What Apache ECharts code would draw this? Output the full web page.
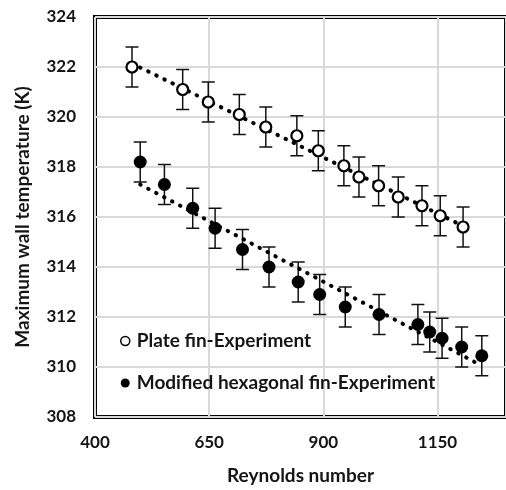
<!DOCTYPE html>
<html>
<head>
<meta charset="utf-8">
<script src="https://cdn.jsdelivr.net/npm/echarts@6/dist/echarts.min.js"></script>
<style>
html,body{margin:0;padding:0;background:#fff;}
#chart{width:506px;height:490px;}
</style>
</head>
<body>
<div id="chart"></div>
<script>
// ---- data ----
var xTicks = [400, 650, 900, 1150];
var yTicks = [308, 310, 312, 314, 316, 318, 320, 322, 324];

var plateName = 'Plate fin-Experiment';
var plateRe = [481, 592, 648, 716, 774, 842, 889, 945, 978, 1021, 1064, 1116, 1156, 1206];
var plateT  = [322.0, 321.1, 320.6, 320.1, 319.6, 319.25, 318.65, 318.05, 317.6, 317.25, 316.8, 316.45, 316.05, 315.6];
var plateErr = [0.8, 0.8, 0.8, 0.8, 0.8, 0.8, 0.8, 0.8, 0.8, 0.8, 0.8, 0.8, 0.8, 0.8];

var hexName = 'Modified hexagonal fin-Experiment';
var hexRe = [499, 552, 614, 663, 723, 781, 845, 892, 948, 1022, 1107, 1133, 1160, 1203, 1247];
var hexT  = [318.2, 317.3, 316.35, 315.55, 314.7, 314.0, 313.4, 312.9, 312.4, 312.1, 311.7, 311.4, 311.15, 310.8, 310.45];
var hexErr = [0.8, 0.8, 0.8, 0.8, 0.8, 0.8, 0.8, 0.8, 0.8, 0.8, 0.8, 0.8, 0.8, 0.8, 0.8];

// linear trend lines (end points)
var plateTrendRe = [481, 1206];
var plateTrendT  = [322.14, 315.64];
var hexTrendRe = [499, 1247];
var hexTrendT  = [317.3, 310.05];

// ---- build ----
function pairs(xs, ys) { return xs.map(function (x, i) { return [x, ys[i]]; }); }
function errData(xs, ys, es) { return xs.map(function (x, i) { return [x, ys[i] - es[i], ys[i] + es[i]]; }); }

var FONT = 'Lato';
var TXT = '#151515';

function errRender(params, api) {
  var x = api.value(0);
  var lo = api.coord([x, api.value(1)]);
  var hi = api.coord([x, api.value(2)]);
  var hw = 6.5;
  var st = { stroke: '#111', lineWidth: 1.5, fill: null };
  return {
    type: 'group',
    children: [
      { type: 'line', shape: { x1: lo[0], y1: lo[1], x2: hi[0], y2: hi[1] }, style: st },
      { type: 'line', shape: { x1: lo[0] - hw, y1: lo[1], x2: lo[0] + hw, y2: lo[1] }, style: st },
      { type: 'line', shape: { x1: hi[0] - hw, y1: hi[1], x2: hi[0] + hw, y2: hi[1] }, style: st }
    ]
  };
}

var trendStyle = { color: '#000', width: 4, type: [0.5, 8.5], cap: 'round' };

var chart = echarts.init(document.getElementById('chart'), null, { renderer: 'canvas' });
chart.setOption({
  backgroundColor: '#fff',
  animation: false,
  textStyle: { fontFamily: FONT },
  grid: {
    left: 95, top: 17, width: 415, height: 403,
    show: true, borderColor: '#000', borderWidth: 4, backgroundColor: 'transparent'
  },
  legend: {
    orient: 'vertical',
    left: 120, top: 331,
    itemWidth: 9, itemHeight: 9, itemGap: 22, padding: 0,
    textStyle: { fontFamily: FONT, fontWeight: 'bold', fontSize: 19, color: TXT, lineHeight: 20, padding: [0, 0, 0, 2] },
    data: [
      { name: plateName, icon: 'circle', itemStyle: { color: '#fff', borderColor: '#000', borderWidth: 1.5 } },
      { name: hexName, icon: 'circle', itemStyle: { color: '#000', borderWidth: 0 } }
    ]
  },
  xAxis: {
    type: 'value', min: 400, max: 1300, interval: 250,
    name: 'Reynolds number', nameLocation: 'middle', nameGap: 49,
    nameTextStyle: { fontFamily: FONT, fontWeight: 'bold', fontSize: 19, color: TXT },
    axisLine: { show: false }, axisTick: { show: false },
    axisLabel: {
      fontFamily: FONT, fontWeight: 'bold', fontSize: 17, color: TXT, margin: 17,
      showMaxLabel: false,
      formatter: function (v) { return xTicks.indexOf(v) >= 0 ? String(v) : ''; }
    },
    splitLine: { show: true, lineStyle: { color: '#d9d9d9', width: 2 } }
  },
  yAxis: {
    type: 'value', min: 308, max: 324, interval: 2,
    name: 'Maximum wall temperature (K)', nameLocation: 'middle', nameGap: 63, nameRotate: 90,
    nameTextStyle: { fontFamily: FONT, fontWeight: 'bold', fontSize: 19, color: TXT },
    axisLine: { show: false }, axisTick: { show: false },
    axisLabel: {
      fontFamily: FONT, fontWeight: 'bold', fontSize: 17, color: TXT, margin: 19,
      formatter: function (v) { return yTicks.indexOf(v) >= 0 ? String(v) : ''; }
    },
    splitLine: { show: true, lineStyle: { color: '#d9d9d9', width: 2 } }
  },
  series: [
    { type: 'custom', name: 'errPlate', renderItem: errRender, data: errData(plateRe, plateT, plateErr), z: 3, encode: { x: 0, y: [1, 2] } },
    { type: 'custom', name: 'errHex', renderItem: errRender, data: errData(hexRe, hexT, hexErr), z: 3, encode: { x: 0, y: [1, 2] } },
    { type: 'line', name: 'trendPlate', data: pairs(plateTrendRe, plateTrendT), symbol: 'none', lineStyle: trendStyle, z: 4, silent: true },
    { type: 'line', name: 'trendHex', data: pairs(hexTrendRe, hexTrendT), symbol: 'none', lineStyle: trendStyle, z: 4, silent: true },
    {
      type: 'scatter', name: plateName, data: pairs(plateRe, plateT),
      symbol: 'circle', symbolSize: 11,
      itemStyle: { color: '#fff', borderColor: '#000', borderWidth: 2.2, opacity: 1 }, z: 5
    },
    {
      type: 'scatter', name: hexName, data: pairs(hexRe, hexT),
      symbol: 'circle', symbolSize: 13,
      itemStyle: { color: '#000', opacity: 1 }, z: 5
    }
  ]
});
</script>
</body>
</html>
